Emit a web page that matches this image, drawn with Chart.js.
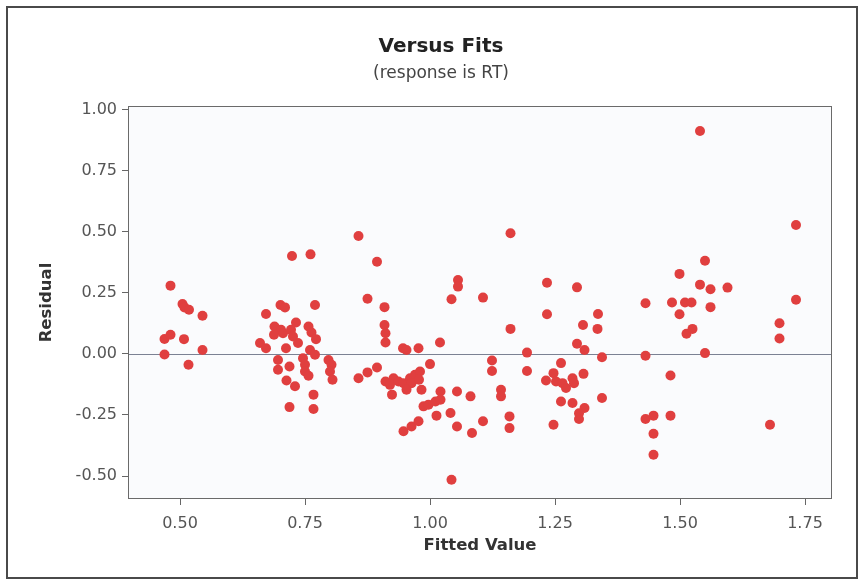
<!DOCTYPE html>
<html>
<head>
<meta charset="utf-8">
<title>Versus Fits</title>
<script src="https://cdn.jsdelivr.net/npm/chart.js@4.4.1/dist/chart.umd.min.js"></script>
<style>
  html, body { margin: 0; padding: 0; background: #ffffff; }
  #wrap { width: 862px; height: 581px; }
  canvas { display: block; }
</style>
</head>
<body>
<div id="wrap"><canvas id="chart" width="862" height="581"></canvas></div>
<script>
// Residuals versus fitted values for the RT model
const fittedValues = [
  0.469, 0.469, 0.481, 0.481, 0.505, 0.509, 0.518, 0.508, 0.517, 0.545, 0.545,
  0.660, 0.672, 0.672, 0.701, 0.710, 0.689, 0.702, 0.688, 0.706, 0.722, 0.732,
  0.726, 0.736, 0.757, 0.763, 0.772, 0.712, 0.760, 0.770, 0.696, 0.746, 0.750,
  0.696, 0.719, 0.750, 0.757, 0.797, 0.803, 0.800, 0.805, 0.713, 0.730, 0.767,
  0.719, 0.767, 0.770, 0.724, 0.761,
  0.857, 0.894, 0.875, 0.909, 0.909, 0.911, 0.911, 0.857, 0.875, 0.894, 0.946,
  0.953, 0.977, 1.020, 1.000, 0.911, 0.927, 0.920, 0.937, 0.947, 0.960, 0.970,
  0.980, 0.963, 0.953, 0.983, 0.978, 0.924, 1.021, 1.054, 0.987, 0.997, 1.011,
  1.021, 1.013, 1.041, 1.054, 0.947, 0.963, 0.977, 1.043, 1.056, 1.056, 1.043,
  1.081, 1.084, 1.106, 1.106, 1.124, 1.124, 1.142, 1.142, 1.161, 1.161, 1.159,
  1.159, 1.194, 1.194, 1.234, 1.234, 1.294, 1.306, 1.336, 1.335, 1.294, 1.309,
  1.344, 1.262, 1.232, 1.247, 1.252, 1.265, 1.272, 1.285, 1.288, 1.307, 1.262,
  1.285, 1.309, 1.298, 1.298, 1.344, 1.247,
  1.431, 1.431, 1.431, 1.447, 1.447, 1.447, 1.481, 1.481, 1.499, 1.499, 1.484,
  1.510, 1.523, 1.513, 1.525, 1.540, 1.540, 1.550, 1.550, 1.561, 1.561, 1.595,
  1.680, 1.699, 1.699, 1.732, 1.732
];
const residuals = [
  -0.003, 0.061, 0.078, 0.279, 0.204, 0.190, 0.180, 0.060, -0.045, 0.156, 0.016,
  0.044, 0.023, 0.163, 0.200, 0.190, 0.112, 0.098, 0.078, 0.084, 0.098, 0.128,
  0.071, 0.044, 0.112, 0.087, 0.060, 0.023, 0.016, -0.004, -0.025, -0.018, -0.045,
  -0.065, -0.052, -0.072, -0.090, -0.025, -0.045, -0.072, -0.106, -0.109, -0.133, -0.167,
  -0.218, -0.226, 0.200, 0.400, 0.407,
  0.482, 0.377, 0.225, 0.191, 0.118, 0.084, 0.046, -0.100, -0.076, -0.056, 0.023,
  0.016, 0.023, 0.046, -0.042, -0.113, -0.100, -0.127, -0.113, -0.120, -0.100, -0.086,
  -0.072, -0.120, -0.147, -0.147, -0.106, -0.167, -0.154, -0.154, -0.215, -0.208, -0.195,
  -0.188, -0.253, -0.242, -0.297, -0.317, -0.297, -0.276, -0.515, 0.302, 0.275, 0.223,
  -0.174, -0.324, 0.230, -0.276, -0.027, -0.070, -0.147, -0.174, 0.493, 0.102, -0.256,
  -0.304, 0.005, -0.070, 0.291, 0.162, 0.272, 0.118, 0.163, 0.102, 0.041, 0.016,
  -0.014, -0.038, -0.109, -0.079, -0.113, -0.120, -0.140, -0.100, -0.120, -0.082, -0.195,
  -0.201, -0.222, -0.243, -0.267, -0.181, -0.290,
  0.207, -0.008, -0.267, -0.253, -0.327, -0.413, -0.253, -0.089, 0.327, 0.162, 0.210,
  0.210, 0.210, 0.082, 0.102, 0.912, 0.283, 0.381, 0.003, 0.264, 0.191, 0.271,
  -0.290, 0.125, 0.063, 0.527, 0.221
];
const xTicks = [0.50, 0.75, 1.00, 1.25, 1.50, 1.75];
const yTicks = [-0.50, -0.25, 0.00, 0.25, 0.50, 0.75, 1.00];
const chartTitle = 'Versus Fits';
const chartSubtitle = '(response is RT)';
const xAxisTitle = 'Fitted Value';
const yAxisTitle = 'Residual';

const points = fittedValues.map((x, i) => ({ x: x, y: residuals[i] }));

const FONT = '"DejaVu Sans", sans-serif';

// Page frame, plot panel, zero reference line and the two title lines
const decorations = {
  id: 'decorations',
  beforeDraw(chart) {
    const { ctx, chartArea: a } = chart;
    ctx.save();
    ctx.fillStyle = '#ffffff';
    ctx.fillRect(0, 0, chart.width, chart.height);
    ctx.strokeStyle = '#4a4a4a';
    ctx.lineWidth = 2;
    ctx.strokeRect(7, 7, 850, 571);
    ctx.fillStyle = '#fafbfd';
    ctx.fillRect(a.left, a.top, a.right - a.left, a.bottom - a.top);
    ctx.restore();
  },
  beforeDatasetsDraw(chart) {
    const { ctx, chartArea: a, scales } = chart;
    const y0 = Math.round(scales.y.getPixelForValue(0)) + 0.5;
    ctx.save();
    ctx.strokeStyle = '#7b8193';
    ctx.lineWidth = 1;
    ctx.beginPath();
    ctx.moveTo(a.left, y0);
    ctx.lineTo(a.right, y0);
    ctx.stroke();
    ctx.restore();
  },
  afterDraw(chart) {
    const { ctx, chartArea: a } = chart;
    ctx.save();
    ctx.strokeStyle = '#6a6a6a';
    ctx.lineWidth = 1;
    ctx.strokeRect(a.left + 0.5, a.top + 0.5, a.right - a.left - 1, a.bottom - a.top - 1);
    ctx.textAlign = 'center';
    ctx.textBaseline = 'middle';
    ctx.fillStyle = '#222222';
    ctx.font = 'bold 20px ' + FONT;
    ctx.fillText(chartTitle, 441, 47);
    ctx.fillStyle = '#444444';
    ctx.font = '17px ' + FONT;
    ctx.fillText(chartSubtitle, 441, 74);
    ctx.restore();
  }
};

new Chart(document.getElementById('chart'), {
  type: 'scatter',
  data: {
    datasets: [{
      data: points,
      backgroundColor: '#e03f3f',
      borderWidth: 0,
      pointRadius: 5,
      pointHoverRadius: 5
    }]
  },
  options: {
    responsive: false,
    animation: false,
    devicePixelRatio: 1,
    layout: { padding: { top: 106, right: 30, left: 0, bottom: 0 } },
    plugins: {
      legend: { display: false },
      tooltip: { enabled: false },
      title: { display: false }
    },
    scales: {
      x: {
        type: 'linear',
        min: 0.396,
        max: 1.804,
        afterFit(scale) { scale.height = 82; },
        afterBuildTicks(scale) { scale.ticks = xTicks.map(v => ({ value: v })); },
        grid: { drawOnChartArea: false, drawTicks: true, tickLength: 6, color: '#666666' },
        border: { display: false },
        ticks: {
          padding: 9,
          color: '#555555',
          font: { family: FONT, size: 16 },
          callback: v => v.toFixed(2)
        },
        title: {
          display: true,
          text: xAxisTitle,
          color: '#333333',
          font: { family: FONT, size: 16.5, weight: 'bold' },
          padding: { top: 0, bottom: 25 }
        }
      },
      y: {
        type: 'linear',
        min: -0.594,
        max: 1.014,
        afterFit(scale) { scale.width = 128; },
        afterBuildTicks(scale) { scale.ticks = yTicks.map(v => ({ value: v })); },
        grid: { drawOnChartArea: false, drawTicks: true, tickLength: 6, color: '#666666' },
        border: { display: false },
        ticks: {
          padding: 5,
          color: '#555555',
          font: { family: FONT, size: 16 },
          callback: v => v.toFixed(2)
        },
        title: {
          display: true,
          text: yAxisTitle,
          color: '#333333',
          font: { family: FONT, size: 16.5, weight: 'bold' },
          padding: { top: 37, bottom: 0 }
        }
      }
    }
  },
  plugins: [decorations]
});
</script>
</body>
</html>
